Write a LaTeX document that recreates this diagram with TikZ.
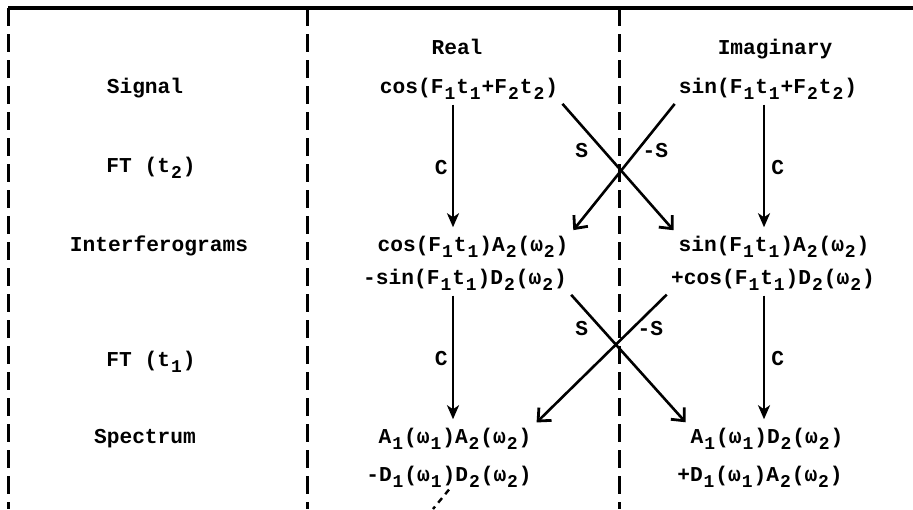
\documentclass[tikz,border=0pt]{standalone}
\usepackage{fontspec}
\setmainfont{Liberation Mono}
\usetikzlibrary{arrows.meta}

\newcommand{\lo}[1]{\makebox[0.6em]{\raisebox{-0.55ex}{\fontsize{9pt}{9pt}\selectfont #1}}}

\begin{document}
\begin{tikzpicture}[
		x=0.5pt, y=-0.5pt,
		every node/.style={font=\fontsize{10.6pt}{12pt}\selectfont\bfseries, inner sep=1pt, anchor=base},
		rule/.style={line width=1.5pt, dash pattern=on 9pt off 4pt},
		down/.style={line width=1.4pt, shorten <=1.5pt, shorten >=3pt, -{Stealth[length=7pt,width=6pt,inset=2pt]}},
		swap/.style={line width=1.3pt, shorten <=1.5pt, shorten >=2pt, -{Straight Barb[length=5pt,width=9pt,line width=1.4pt]}},
		tick/.style={line width=1.2pt, dash pattern=on 3pt off 2.5pt}
		]
	\useasboundingbox (0,0) rectangle (913,509);
	\draw[line width=2pt] (8,8) -- (913,8);
	\foreach \x in {8,307,619}
		\draw[rule] (\x,8) -- (\x,509);
	\coordinate (colR) at (453,0);
	\coordinate (colI) at (764,0);
	\coordinate (cut) at (433,509);

	\node (real) at (457,54) {Real};
	\node (imag) at (775,54) {Imaginary};

	\node (sig) at (145,93) {Signal};
	\node (ft2) at (151,172) {FT (t\lo2)};
	\node (inter) at (159,251) {Interferograms};
	\node (ft1) at (151,366) {FT (t\lo1)};
	\node (spec) at (145,443) {Spectrum};

	\node (sigR) at (469,93) {cos(F\lo1t\lo1+F\lo2t\lo2)};
	\node (sigI) at (768,93) {sin(F\lo1t\lo1+F\lo2t\lo2)};
	\node (intR) at (473,251) {cos(F\lo1t\lo1)A\lo2(ω\lo2)};
	\node (intRb) at (465,284) {-sin(F\lo1t\lo1)D\lo2(ω\lo2)};
	\node (intI) at (774,251) {sin(F\lo1t\lo1)A\lo2(ω\lo2)};
	\node (intIb) at (773,284) {+cos(F\lo1t\lo1)D\lo2(ω\lo2)};
	\node (spcR) at (455,443) {A\lo1(ω\lo1)A\lo2(ω\lo2)};
	\node (spcRb) at (449,481) {-D\lo1(ω\lo1)D\lo2(ω\lo2)};
	\node (spcI) at (767,443) {A\lo1(ω\lo1)D\lo2(ω\lo2)};
	\node (spcIb) at (760,481) {+D\lo1(ω\lo1)A\lo2(ω\lo2)};

	\draw[down] (sigR.south -| colR) -- node[left=1pt]{C} (intR.north -| colR);
	\draw[down] (sigI.south -| colI) -- node[right=2pt]{C} (intI.north -| colI);
	\draw[swap] (sigR.south east) -- node[left=6pt, pos=.37]{S} (intI.north west);
	\draw[swap] (sigI.south west) -- node[right=1pt, pos=.37]{-S} (intR.north east);

	\draw[down] (intRb.south -| colR) -- node[left=1pt]{C} (spcR.north -| colR);
	\draw[down] (intIb.south -| colI) -- node[right=2pt]{C} (spcI.north -| colI);
	\draw[swap] (intRb.south east) -- node[left=5pt, pos=.27]{S} (spcI.north west);
	\draw[swap] (intIb.south west) -- node[right=1pt, pos=.27]{-S} (spcR.north east);

	\draw[tick] (spcRb.south) -- (cut);
\end{tikzpicture}
\end{document}
